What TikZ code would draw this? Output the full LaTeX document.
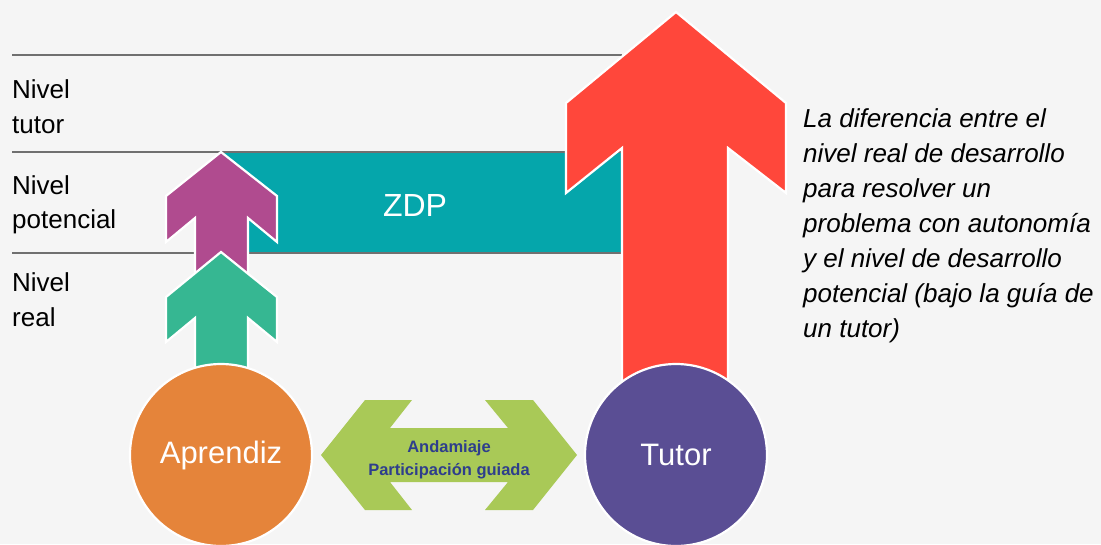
\documentclass[tikz,border=0pt]{standalone}
\usepackage{fontspec}
\setmainfont{Liberation Sans}
\definecolor{bgc}{HTML}{F5F5F5}
\definecolor{linec}{HTML}{707070}
\definecolor{tealc}{HTML}{05A6AB}
\definecolor{purplec}{HTML}{B04B8F}
\definecolor{greenc}{HTML}{36B792}
\definecolor{redc}{HTML}{FF473B}
\definecolor{orangec}{HTML}{E5843A}
\definecolor{tutorc}{HTML}{5A4E94}
\definecolor{limec}{HTML}{A9C957}
\definecolor{navyc}{HTML}{2E3E8C}
\begin{document}
\begin{tikzpicture}[x=1pt,y=-1pt,
  levelline/.style={draw=linec, line width=2},
  uparrow/.style={draw=white, line width=2.2, line join=miter},
  person/.style={circle, draw=white, line width=2.2, minimum size=182, inner sep=0, text=white, font=\fontsize{31}{36}\selectfont},
  lvl/.style={anchor=base west, inner sep=0, font=\fontsize{26}{30}\selectfont, text=black},
  para/.style={anchor=base west, inner sep=0, font=\fontsize{26}{30}\selectfont\itshape, text=black},
  scaff/.style={anchor=base, inner sep=0, font=\fontsize{16.5}{20}\selectfont\bfseries, text=navyc}]
\useasboundingbox (0,0) rectangle (1101,544);
\fill[bgc] (0,0) rectangle (1101,544);
% ZDP band
\fill[tealc] (221,152) rectangle (622,253);
\node[text=white, font=\fontsize{32}{36}\selectfont, inner sep=0] (zdp) at (415,205) {ZDP};
% level lines
\coordinate (l1a) at (12,55);  \coordinate (l1b) at (622,55);
\coordinate (l2a) at (12,152); \coordinate (l2b) at (622,152);
\coordinate (l3a) at (12,253); \coordinate (l3b) at (622,253);
\draw[levelline] (l1a) -- (l1b);
\draw[levelline] (l2a) -- (l2b);
\draw[levelline] (l3a) -- (l3b);
% level labels
\node[lvl] (n1a) at (12,98) {Nivel};
\node[lvl] (n1b) at (12,133) {tutor};
\node[lvl] (n2a) at (12,194) {Nivel};
\node[lvl] (n2b) at (12,228) {potencial};
\node[lvl] (n3a) at (12,291) {Nivel};
\node[lvl] (n3b) at (12,326) {real};
% purple arrow
\filldraw[uparrow, fill=purplec] (221,152) -- (277,196) -- (277,242) -- (248,218) -- (248,278) -- (195,278) -- (195,218) -- (166,242) -- (166,196) -- cycle;
% green arrow
\filldraw[uparrow, fill=greenc] (221,252) -- (277,297) -- (277,342) -- (248,318) -- (248,380) -- (195,380) -- (195,318) -- (166,342) -- (166,297) -- cycle;
% red arrow
\filldraw[uparrow, fill=redc] (676,12) -- (786,103) -- (786,193) -- (728,148) -- (728,400) -- (622,400) -- (622,148) -- (566,193) -- (566,103) -- cycle;
% persons
\node[person, fill=orangec] (apr) at (221,455) {Aprendiz};
\node[person, fill=tutorc] (tut) at (676,455) {Tutor};
% double arrow between them
\fill[limec] (321,455) -- (365,400) -- (412,400) -- (390,428) -- (508,428) -- (485,400) -- (533,400) -- (577,455) -- (533,510) -- (485,510) -- (508,482) -- (390,482) -- (412,510) -- (365,510) -- cycle;
\node[scaff] (s1) at (449,452) {Andamiaje};
\node[scaff] (s2) at (449,475) {Participación guiada};
% description
\node[para] (p1) at (803,127) {La diferencia entre el};
\node[para] (p2) at (803,162) {nivel real de desarrollo};
\node[para] (p3) at (803,197) {para resolver un};
\node[para] (p4) at (803,232) {problema con autonomía};
\node[para] (p5) at (803,267) {y el nivel de desarrollo};
\node[para] (p6) at (803,302) {potencial (bajo la guía de};
\node[para] (p7) at (803,337) {un tutor)};
\end{tikzpicture}
\end{document}
